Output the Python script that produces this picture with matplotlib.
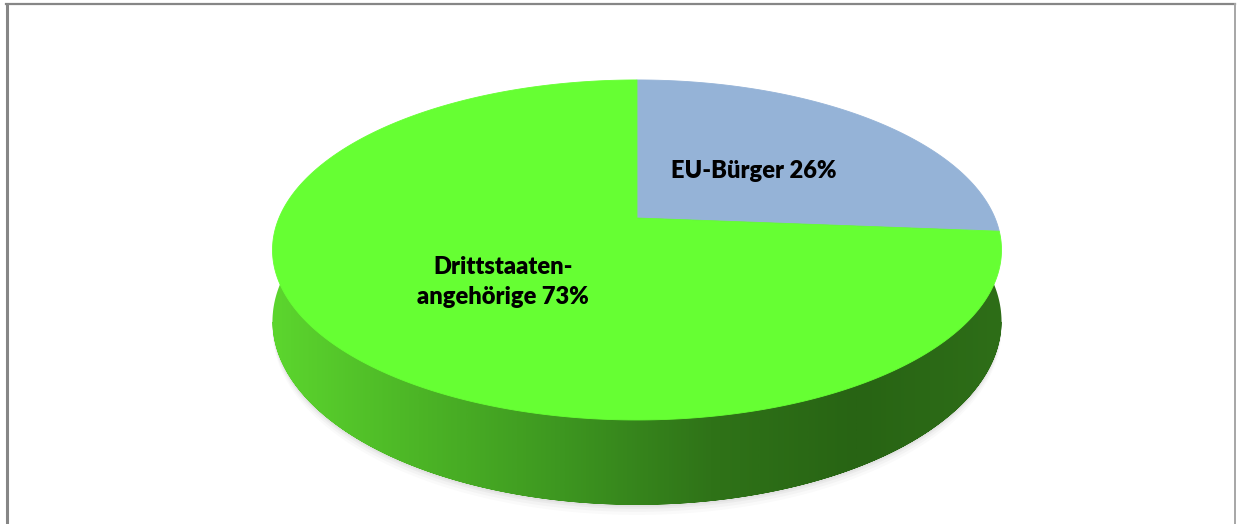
import numpy as np
import matplotlib
matplotlib.use("Agg")
import matplotlib.pyplot as plt
from matplotlib.patches import Polygon
from matplotlib.colors import LinearSegmentedColormap

# data
labels = ["EU-Bürger 26%", "Drittstaaten-\nangehörige 73%"]
values = [26, 73]
colors = ["#95b3d7", "#66ff33"]

W, H = 1237, 524
fig = plt.figure(figsize=(W / 100, H / 100), dpi=100)
ax = fig.add_axes([0, 0, 1, 1])
ax.set_xlim(0, W)
ax.set_ylim(H, 0)
ax.axis("off")

# pie geometry in pixels, with a simple perspective (front is bigger)
cx, cy = 637, 218
a, b, k = 358, 164, 0.188
depth = 84


def project(t, dy=0.0):
    u = np.cos(t)
    v = -np.sin(t)          # +1 = front (towards viewer)
    s = 1.0 / (1.0 - k * v)
    return cx + a * u * s, cy + b * v * s + dy * s * 0.82


t_all = np.linspace(0, 2 * np.pi, 721)
xt, yt = project(t_all)
xb, yb = project(t_all, depth)

# soft shadow under the cake
for grow, alpha in [(10, 0.04), (7, 0.05), (4, 0.07), (2, 0.08)]:
    xs, ys = project(t_all, depth + grow)
    ax.fill(xs, ys, color="#808080", alpha=alpha, lw=0, zorder=1)

# side wall: top outline across the back, bottom outline across the front
il, ir = np.argmin(xt), np.argmax(xt)
back_idx = np.arange(ir, il + 1)
ilb, irb = np.argmin(xb), np.argmax(xb)
front_idx = np.r_[np.arange(ilb, 721), np.arange(0, irb + 1)]
side = np.r_[np.c_[xt[back_idx], yt[back_idx]], np.c_[xb[front_idx], yb[front_idx]]]
side_patch = Polygon(side, closed=True, facecolor="none", edgecolor="none", zorder=2)
ax.add_patch(side_patch)

side_cmap = LinearSegmentedColormap.from_list(
    "side", ["#5cd62e", "#4cb526", "#3d9620", "#2f7318", "#286414", "#2e6e18"])
grad = np.linspace(0, 1, 512)[None, :]
img = ax.imshow(grad, cmap=side_cmap, aspect="auto",
                extent=[xt.min() - 2, xt.max() + 2, yb.max() + 2, yt.min()],
                zorder=2, interpolation="bilinear")
img.set_clip_path(side_patch)

# top face slices, clockwise from 12 o'clock
fracs = np.array(values, dtype=float) / sum(values)
start = np.pi / 2
for frac, col in zip(fracs, colors):
    end = start - frac * 2 * np.pi
    ts = np.linspace(start, end, 400)
    xs, ys = project(ts)
    pts = np.r_[[[cx, cy]], np.c_[xs, ys]]
    ax.add_patch(Polygon(pts, closed=True, facecolor=col, edgecolor=col, lw=0.6, zorder=3))
    start = end

# labels
font = dict(family="Lato", weight="heavy", fontsize=17, color="black", zorder=4)
ax.text(754, 171, labels[0], ha="center", va="center", **font)
ax.text(503, 282, labels[1], ha="center", va="center", linespacing=1.5, **font)

# chart frame
ax.plot([7, 7], [H + 5, 4], color="#868686", lw=2.2, zorder=5, solid_capstyle="butt")
ax.plot([6, 1235], [4, 4], color="#868686", lw=1.6, zorder=5)
ax.plot([1235, 1235], [4, H + 5], color="#a6a6a6", lw=1.4, zorder=5)

fig.savefig("out.png", dpi=100)
